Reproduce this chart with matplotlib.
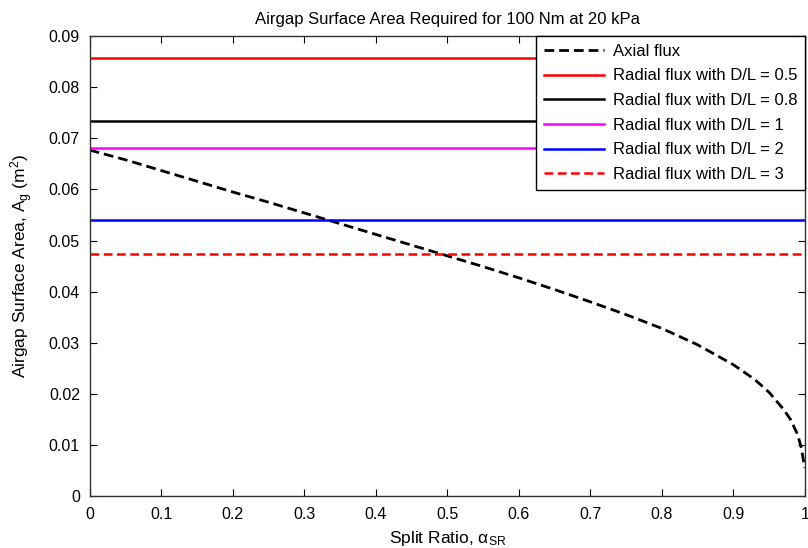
import matplotlib
matplotlib.use("Agg")
import matplotlib.pyplot as plt

plt.rcParams['font.family'] = ['Liberation Sans', 'DejaVu Sans']
plt.rcParams['mathtext.default'] = 'regular'

alpha = [0.0, 0.05, 0.1, 0.15, 0.2, 0.25, 0.3, 0.35, 0.4, 0.45, 0.5, 0.55, 0.6,
         0.65, 0.7, 0.75, 0.8, 0.85, 0.9, 0.93, 0.95, 0.97, 0.98, 0.99, 0.995, 1.0]
axial = [0.0677, 0.0658, 0.0637, 0.0616, 0.0595, 0.0575, 0.0554, 0.0533, 0.0512,
         0.0491, 0.0470, 0.0449, 0.0427, 0.0404, 0.0380, 0.0355, 0.0328, 0.0296,
         0.0257, 0.0228, 0.0203, 0.0170, 0.0150, 0.0120, 0.0095, 0.0055]

radial_labels = ['Radial flux with D/L = 0.5', 'Radial flux with D/L = 0.8',
                 'Radial flux with D/L = 1', 'Radial flux with D/L = 2',
                 'Radial flux with D/L = 3']
radial_values = [0.0858, 0.0733, 0.0682, 0.0540, 0.0474]
radial_colors = ['#ff0000', '#000000', '#ff00ff', '#0000ff', '#ff0000']
radial_styles = ['-', '-', '-', '-', '--']

fig = plt.figure(figsize=(8.08, 5.48), dpi=100)
ax = fig.add_axes([0.111, 0.095, 0.885, 0.839])

ax.plot(alpha, axial, 'k--', lw=2.0, dashes=(3.5, 1.8), label='Axial flux')
for v, c, s, l in zip(radial_values, radial_colors, radial_styles, radial_labels):
    if s == '--':
        ax.plot([0, 1], [v, v], color=c, ls=s, lw=1.8, dashes=(3.5, 1.8), label=l)
    else:
        ax.plot([0, 1], [v, v], color=c, ls=s, lw=1.8, label=l)

ax.set_xlim(0, 1)
ax.set_ylim(0, 0.09)
ax.set_xticks([i / 10 for i in range(11)])
ax.set_xticklabels(['0', '0.1', '0.2', '0.3', '0.4', '0.5', '0.6', '0.7', '0.8', '0.9', '1'])
ax.set_yticks([i / 100 for i in range(10)])
ax.set_yticklabels(['0', '0.01', '0.02', '0.03', '0.04', '0.05', '0.06', '0.07', '0.08', '0.09'])
ax.tick_params(direction='in', top=True, right=True, length=5, labelsize=11.5, colors='black')
ax.tick_params(axis='x', pad=8)
ax.tick_params(axis='y', pad=7)
for sp in ax.spines.values():
    sp.set_linewidth(1.0)
    sp.set_color('#303030')

ax.set_title('Airgap Surface Area Required for 100 Nm at 20 kPa', fontsize=12, pad=9)
ax.set_xlabel('Split Ratio, α$_{SR}$', fontsize=12.5, labelpad=5)
ax.set_ylabel('Airgap Surface Area, A$_g$ (m$^2$)', fontsize=12.5, labelpad=10)

leg = ax.legend(loc='upper right', borderaxespad=0, fontsize=12, frameon=True,
                fancybox=False, edgecolor='black', framealpha=1, handlelength=3.6,
                labelspacing=0.58, borderpad=0.45, handletextpad=0.55)
leg.get_frame().set_linewidth(1.0)

fig.savefig('out.png', dpi=100)
